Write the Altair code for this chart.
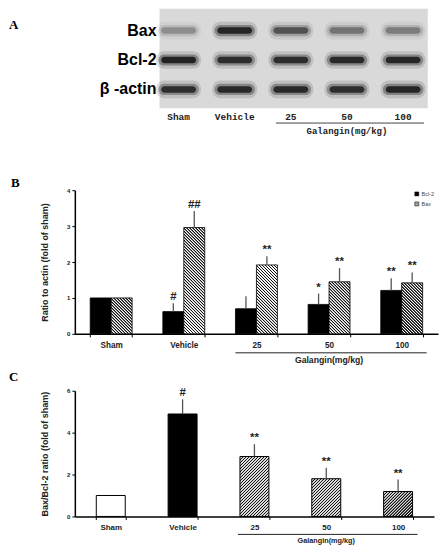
import math
import altair as alt
import pandas as pd

# ---------------- data ----------------
groups = ["Sham", "Vehicle", "25", "50", "100"]
blot_rows = ["Bax", "Bcl-2", "β -actin"]
band_bax = [0.30, 0.92, 0.60, 0.42, 0.38]      # band darkness (0..1)
band_bcl2 = [0.95, 0.85, 0.85, 0.88, 0.90]
band_actin = [0.85, 0.88, 0.88, 0.85, 0.92]

series = ["Bcl-2", "Bax"]
bcl2_mean = [1.00, 0.62, 0.70, 0.82, 1.21]
bcl2_sd = [0.00, 0.23, 0.35, 0.30, 0.34]
bcl2_sig = ["", "#", "", "*", "**"]
bax_mean = [1.00, 2.96, 1.92, 1.45, 1.42]
bax_sd = [0.00, 0.46, 0.24, 0.38, 0.29]
bax_sig = ["", "##", "**", "**", "**"]

ratio_mean = [1.00, 4.89, 2.86, 1.80, 1.19]
ratio_sd = [0.00, 0.70, 0.59, 0.53, 0.57]
ratio_sig = ["", "#", "**", "**", "**"]
galangin = "Galangin(mg/kg)"

# ---------------- layout / style ----------------
FONT = "Liberation Sans"
W_A, H_A = 364, 125
W_B, H_B = 364, 144
W_C, H_C = 360, 126
GAP = 57


def hatch(w, h, direction, hperiod=3.0, ink="#111111", paper="#ffffff", inkfrac=0.35):
    """Striped linear gradient (objectBoundingBox units) giving 45deg hatching
    with a horizontal repeat of `hperiod` pixels."""
    p = hperiod / math.sqrt(2)
    nf = (w + h) / (math.sqrt(2) * p)
    a = (w + h) / (w * w + h * h)
    if direction == "back":
        x1, y1, x2, y2 = 1.0, 0.0, 1.0 - a * w, a * h
    else:
        x1, y1, x2, y2 = 0.0, 0.0, a * w, a * h
    ramp = (1 - 2 * inkfrac) / 2 if inkfrac < 0.5 else 0.0
    stops = []
    for i in range(int(math.ceil(nf)) + 1):
        pts = [(i, ink), (i + inkfrac, ink), (i + inkfrac + ramp, paper),
               (i + 1 - ramp, paper)]
        for o, c in pts:
            off = o / nf
            if off <= 1.0:
                stops.append({"offset": round(off, 5), "color": c})
    return {"gradient": "linear", "x1": x1, "y1": y1, "x2": x2, "y2": y2, "stops": stops}


def letter(t, x, y):
    return alt.Chart(pd.DataFrame({"t": [t]})).mark_text(
        align="left", baseline="middle", font="Liberation Serif", fontWeight="bold", fontSize=13
    ).encode(x=alt.value(x), y=alt.value(y), text="t:N")


# ---------------- Panel A : blot ----------------
lane_x0, lane_step = 104.0, 56.25
row_y0, row_step = 22.0, 29.5
xA = alt.Scale(domain=[-lane_x0 / lane_step, (W_A - lane_x0) / lane_step], nice=False, zero=False)
yA = alt.Scale(domain=[-row_y0 / row_step, (H_A - row_y0) / row_step], reverse=True, nice=False, zero=False)

bands = pd.DataFrame([
    {"lane": i, "row": r, "dark": d}
    for r, arr in enumerate([band_bax, band_bcl2, band_actin])
    for i, d in enumerate(arr)
])
lanes = pd.DataFrame({"lane": list(range(len(groups))), "group": groups})
rows = pd.DataFrame({"row": list(range(len(blot_rows))), "label": blot_rows})
frame = pd.DataFrame({"x0": [-0.34], "x1": [len(groups) - 1 + 0.44], "y0": [-0.74], "y1": [2.64]})


def band_layer(hw, hh, k, color, radius):
    return alt.Chart(bands).transform_calculate(
        x0=f"datum.lane-{hw}", x1=f"datum.lane+{hw}", y0=f"datum.row-{hh}", y1=f"datum.row+{hh}",
        op=f"datum.dark*{k}").mark_rect(color=color, cornerRadius=radius).encode(
        x=alt.X("x0:Q", scale=xA, axis=None), x2="x1:Q",
        y=alt.Y("y0:Q", scale=yA, axis=None), y2="y1:Q",
        opacity=alt.Opacity("op:Q", scale=None))


a_frame = alt.Chart(frame).mark_rect(color="#d9d9d9").encode(
    x=alt.X("x0:Q", scale=xA, axis=None), x2="x1:Q",
    y=alt.Y("y0:Q", scale=yA, axis=None), y2="y1:Q")
a_halo = band_layer(0.40, 0.30, 0.22, "#555", 8)
a_mid = band_layer(0.36, 0.19, 0.45, "#333", 6)
a_core = band_layer(0.31, 0.11, 0.9, "#111", 4)
a_rowlab = alt.Chart(rows).transform_calculate(xl="-0.34").mark_text(
    align="right", baseline="middle", font=FONT, fontWeight="bold", fontSize=16, dx=-3
).encode(x=alt.X("xl:Q", scale=xA, axis=None), y=alt.Y("row:Q", scale=yA, axis=None), text="label:N")
a_lanelab = alt.Chart(lanes).mark_text(
    font="Liberation Mono", fontWeight="bold", fontSize=9.5, baseline="middle", color="#222"
).encode(x=alt.X("lane:Q", scale=xA, axis=None), y=alt.value(109), text="group:N")
a_rule = alt.Chart(pd.DataFrame({"a": [2], "b": [4]})).mark_rule(
    color="#444", strokeWidth=1, xOffset=-15, x2Offset=21
).encode(x=alt.X("a:Q", scale=xA, axis=None), x2="b:Q", y=alt.value(114.7))
a_gal = alt.Chart(pd.DataFrame({"lane": [3], "t": [galangin]})).mark_text(
    font="Liberation Mono", fontWeight="bold", fontSize=9, baseline="middle", color="#222"
).encode(x=alt.X("lane:Q", scale=xA, axis=None), y=alt.value(123), text="t:N")

panelA = alt.layer(a_frame, a_halo, a_mid, a_core, a_rowlab, a_lanelab, a_rule, a_gal,
                   letter("A", -66, 16)).properties(width=W_A, height=H_A)

# ---------------- Panel B ----------------
recs = []
for i, g in enumerate(groups):
    recs.append({"group": g, "series": "Bcl-2", "mean": bcl2_mean[i], "sd": bcl2_sd[i], "sig": bcl2_sig[i]})
    recs.append({"group": g, "series": "Bax", "mean": bax_mean[i], "sd": bax_sd[i], "sig": bax_sig[i]})
dfB = pd.DataFrame(recs)
dfB["top"] = dfB["mean"] + dfB["sd"]

pB, poB = 0.423, 0.2115
stepB = W_B / (len(groups) - pB + 2 * poB)
wB = stepB * (1 - pB) / 2
pxB = H_B / 4.0

scXB = alt.Scale(domain=groups, paddingInner=pB, paddingOuter=poB)
xB = alt.X("group:N", scale=scXB,
           axis=alt.Axis(title=None, labelAngle=0, labelFontSize=8.2, labelFontWeight="bold",
                         labelPadding=5, tickBand="extent", tickSize=3, domainWidth=1.5))
xoB = alt.XOffset("series:N", scale=alt.Scale(domain=series, paddingInner=0, paddingOuter=0))
axB = alt.Axis(values=[0, 1, 2, 3, 4], title="Ratio to actin (fold of sham)", grid=False, tickSize=3,
               labelFontSize=6, labelFontWeight="bold", labelPadding=2, titleFontSize=9,
               titleFontWeight="bold", titlePadding=17, domainWidth=1.5)
scB = alt.Scale(domain=[0, 4], nice=False)

condB = [{"test": f"datum.group === '{g}' && datum.series === 'Bax'",
          "value": hatch(wB, m * pxB, "back", hperiod=3.0, inkfrac=0.33)} for g, m in zip(groups, bax_mean)]
fillB = alt.Fill("series:N", scale=alt.Scale(domain=series, range=["#000000", "#a0a0a0"]),
                 legend=alt.Legend(orient="none", legendX=340, legendY=1, title=None, symbolType="square",
                                   symbolSize=16, symbolStrokeColor="black", symbolStrokeWidth=0.5,
                                   labelFontSize=5.5, labelColor="#444", labelOffset=2, rowPadding=2,
                                   padding=0),
                 condition=condB)

b_bars = alt.Chart(dfB).mark_bar(stroke="black", strokeWidth=0.8).encode(
    x=xB, xOffset=xoB, y=alt.Y("mean:Q", scale=scB, axis=axB), fill=fillB)
b_err = alt.Chart(dfB).transform_filter("datum.sd > 0").mark_rule(color="#555", strokeWidth=1.3).encode(
    x=xB, xOffset=xoB, y=alt.Y("mean:Q", scale=scB, axis=axB), y2="top:Q")
b_sig = alt.Chart(dfB).mark_text(baseline="bottom", dy=-1, font=FONT, fontWeight="bold", fontSize=11.5,
                                 color="#222").encode(
    x=xB, xOffset=xoB, y=alt.Y("top:Q", scale=scB, axis=axB), text="sig:N")
b_rule = alt.Chart(pd.DataFrame({"a": ["25"], "b": ["100"]})).mark_rule(
    color="#222", strokeWidth=1, xOffset=-21, x2Offset=25).encode(
    x=alt.X("a:N", scale=scXB), x2="b:N", y=alt.value(H_B + 19))
b_gal = alt.Chart(pd.DataFrame({"g": ["50"], "t": [galangin]})).mark_text(
    font=FONT, fontWeight="bold", fontSize=8.7, baseline="middle", color="#222").encode(
    x=alt.X("g:N", scale=scXB), y=alt.value(H_B + 26), text="t:N")

panelB = alt.layer(b_bars, b_err, b_sig, b_rule, b_gal, letter("B", -64, -7)).properties(width=W_B, height=H_B)

# ---------------- Panel C ----------------
dfC = pd.DataFrame({"group": groups, "mean": ratio_mean, "sd": ratio_sd, "sig": ratio_sig})
dfC["top"] = dfC["mean"] + dfC["sd"]
pC, poC = 0.597, 0.2985
stepC = W_C / (len(groups) - pC + 2 * poC)
wC = stepC * (1 - pC)
pxC = H_C / 6.0

scXC = alt.Scale(domain=groups, paddingInner=pC, paddingOuter=poC)
xC = alt.X("group:N", scale=scXC,
           axis=alt.Axis(title=None, labelAngle=0, labelFontSize=8, labelFontWeight="bold",
                         labelPadding=4.5, tickBand="extent", tickSize=3, domainWidth=1.5))
axC = alt.Axis(values=[0, 2, 4, 6], title="Bax/Bcl-2 ratio (fold of sham)", grid=False, tickSize=3,
               labelFontSize=6, labelFontWeight="bold", labelPadding=2, titleFontSize=9,
               titleFontWeight="bold", titlePadding=17, domainWidth=1.5)
scC = alt.Scale(domain=[0, 6], nice=False)

condC = [{"test": "datum.group === 'Sham'", "value": "#ffffff"}] + [
    {"test": f"datum.group === '{g}'", "value": hatch(wC, m * pxC, "fwd", hperiod=3.0, inkfrac=0.45, paper="#dcdcdc")}
    for g, m in zip(groups[2:], ratio_mean[2:])]

c_bars = alt.Chart(dfC).mark_bar(stroke="black", strokeWidth=1).encode(
    x=xC, y=alt.Y("mean:Q", scale=scC, axis=axC), fill=alt.FillValue(value="#000000", condition=condC))
c_err = alt.Chart(dfC).transform_filter("datum.sd > 0").mark_rule(color="#555", strokeWidth=1.3).encode(
    x=xC, y=alt.Y("mean:Q", scale=scC, axis=axC), y2="top:Q")
c_sig = alt.Chart(dfC).mark_text(baseline="bottom", dy=-1, font=FONT, fontWeight="bold", fontSize=11.5,
                                 color="#222").encode(
    x=xC, y=alt.Y("top:Q", scale=scC, axis=axC), text="sig:N")
c_rule = alt.Chart(pd.DataFrame({"a": ["25"], "b": ["100"]})).mark_rule(
    color="#222", strokeWidth=1, xOffset=-16.5, x2Offset=19.5).encode(
    x=alt.X("a:N", scale=scXC), x2="b:N", y=alt.value(H_C + 18))
c_gal = alt.Chart(pd.DataFrame({"g": ["50"], "t": [galangin]})).mark_text(
    font=FONT, fontWeight="bold", fontSize=7.3, baseline="middle", color="#222").encode(
    x=alt.X("g:N", scale=scXC), y=alt.value(H_C + 24.5), text="t:N")

panelC = alt.layer(c_bars, c_err, c_sig, c_rule, c_gal, letter("C", -66, -14)).properties(width=W_C, height=H_C)

chart = alt.vconcat(panelA, panelB, panelC, spacing=GAP, bounds="flush").resolve_scale(
    fill="independent"
).properties(
    padding={"left": 1, "top": 0, "right": 2, "bottom": 2}
).configure_view(stroke=None).configure_axis(
    labelFont=FONT, titleFont=FONT, domainColor="black", tickColor="black",
    labelColor="#222", titleColor="#222"
)

chart.save("out.html", embed_options={"renderer": "svg", "actions": False})
